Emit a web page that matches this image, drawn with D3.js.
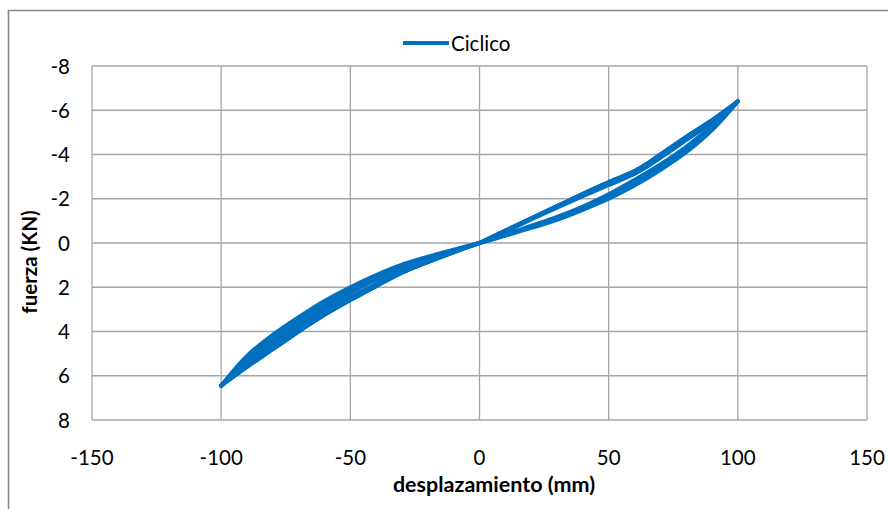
<!DOCTYPE html>
<html>
<head>
<meta charset="utf-8">
<title>Ciclico</title>
<script src="https://d3js.org/d3.v7.min.js"></script>
<style>
body { margin: 0; background: #fff; }
text { font-family: Lato, "Open Sans", sans-serif; fill: #000; }
.grid line { stroke: #a6a6a6; stroke-width: 1.3; }
</style>
</head>
<body>
<svg id="chart" width="888" height="509"></svg>
<script>
// desplazamiento (mm) sampled along each branch
var despIda = [0, 10, 20, 30, 40, 50, 60, 70, 80, 90, 100];
var despVuelta = [100, 90, 80, 70, 65, 60, 50, 40, 30, 20, 10, 0];
var despNeg = [0, -10, -20, -30, -40, -50, -60, -70, -80, -90, -100];
var despNegVuelta = [-100, -90, -80, -70, -60, -50, -40, -30, -20, -10, 0];

// fuerza (KN) per branch
var cargaPos1 = [0, -0.35, -0.72, -1.1, -1.55, -2.1, -2.7, -3.4, -4.2, -5.2, -6.4];
var cargaPos2 = [0, -0.38, -0.78, -1.18, -1.65, -2.2, -2.85, -3.55, -4.35, -5.3, -6.4];
var cargaPos3 = [0, -0.33, -0.68, -1.05, -1.5, -2.0, -2.6, -3.3, -4.1, -5.1, -6.4];
var descargaPos1 = [-6.4, -5.55, -4.8, -4.0, -3.6, -3.25, -2.75, -2.22, -1.67, -1.12, -0.56, 0];
var descargaPos2 = [-6.4, -5.45, -4.65, -3.85, -3.45, -3.12, -2.62, -2.12, -1.6, -1.06, -0.52, 0];
var cargaNeg1 = [0, 0.3, 0.62, 0.98, 1.45, 2.0, 2.62, 3.35, 4.15, 5.1, 6.45];
var cargaNeg2 = [0, 0.36, 0.74, 1.14, 1.65, 2.25, 2.92, 3.68, 4.5, 5.4, 6.45];
var cargaNeg3 = [0, 0.33, 0.68, 1.06, 1.55, 2.12, 2.77, 3.52, 4.32, 5.25, 6.45];
var descargaNeg1 = [6.45, 5.6, 4.8, 4.0, 3.25, 2.58, 1.95, 1.34, 0.86, 0.42, 0];
var descargaNeg2 = [6.45, 5.5, 4.65, 3.85, 3.1, 2.44, 1.84, 1.25, 0.8, 0.39, 0];

var xTicks = [-150, -100, -50, 0, 50, 100, 150];
var yTicks = [-8, -6, -4, -2, 0, 2, 4, 6, 8];

// build the cyclic path from the branches
function tramo(xs, ys) {
  return xs.map(function(x, i) { return [x, ys[i]]; });
}
var ramas = [
  tramo(despIda, cargaPos1), tramo(despVuelta, descargaPos1),
  tramo(despNeg, cargaNeg1), tramo(despNegVuelta, descargaNeg1),
  tramo(despIda, cargaPos2), tramo(despVuelta, descargaPos2),
  tramo(despNeg, cargaNeg2), tramo(despNegVuelta, descargaNeg2),
  tramo(despIda, cargaPos3), tramo(despVuelta, descargaPos1),
  tramo(despNeg, cargaNeg3), tramo(despNegVuelta, descargaNeg1)
];

var svg = d3.select("#chart");
var blue = "#0070c0";

var x = d3.scaleLinear().domain([-150, 150]).range([92, 867]);
var y = d3.scaleLinear().domain([-8, 8]).range([66, 420]);

// outer chart frame (cut by the picture edge)
svg.append("path")
  .attr("d", "M8.5,509V10.5H888")
  .attr("fill", "none")
  .attr("stroke", "#878787")
  .attr("stroke-width", 1.6);

// grid
var grid = svg.append("g").attr("class", "grid");
grid.selectAll(".v").data(xTicks).enter().append("line")
  .attr("x1", function(d) { return x(d); })
  .attr("x2", function(d) { return x(d); })
  .attr("y1", y(-8)).attr("y2", y(8));
grid.selectAll(".h").data(yTicks).enter().append("line")
  .attr("y1", function(d) { return y(d); })
  .attr("y2", function(d) { return y(d); })
  .attr("x1", x(-150)).attr("x2", x(150));

// tick labels
svg.append("g").selectAll("text").data(xTicks).enter().append("text")
  .attr("x", function(d) { return x(d); })
  .attr("y", 465)
  .attr("text-anchor", "middle")
  .style("font-size", "20.5px")
  .text(function(d) { return d; });
svg.append("g").selectAll("text").data(yTicks).enter().append("text")
  .attr("x", 70)
  .attr("y", function(d) { return y(d) + 7.5; })
  .attr("text-anchor", "end")
  .style("font-size", "20.5px")
  .text(function(d) { return d; });

// series: each branch smoothed
var line = d3.line()
  .x(function(d) { return x(d[0]); })
  .y(function(d) { return y(d[1]); })
  .curve(d3.curveCatmullRom);
svg.append("g").selectAll("path").data(ramas).enter().append("path")
  .attr("d", line)
  .attr("fill", "none")
  .attr("stroke", blue)
  .attr("stroke-width", 4)
  .attr("stroke-linejoin", "round")
  .attr("stroke-linecap", "round");

// axis titles
svg.append("text")
  .attr("x", 494).attr("y", 492)
  .attr("text-anchor", "middle")
  .style("font-size", "21.5px")
  .style("font-weight", "bold")
  .text("desplazamiento (mm)");
svg.append("text")
  .attr("transform", "translate(37,262) rotate(-90)")
  .attr("text-anchor", "middle")
  .style("font-size", "20.5px")
  .style("font-weight", "bold")
  .text("fuerza (KN)");

// legend
svg.append("line")
  .attr("x1", 403).attr("x2", 449)
  .attr("y1", 43).attr("y2", 43)
  .attr("stroke", blue)
  .attr("stroke-width", 4);
svg.append("text")
  .attr("x", 451).attr("y", 51)
  .style("font-size", "20.5px")
  .text("Ciclico");
</script>
</body>
</html>
